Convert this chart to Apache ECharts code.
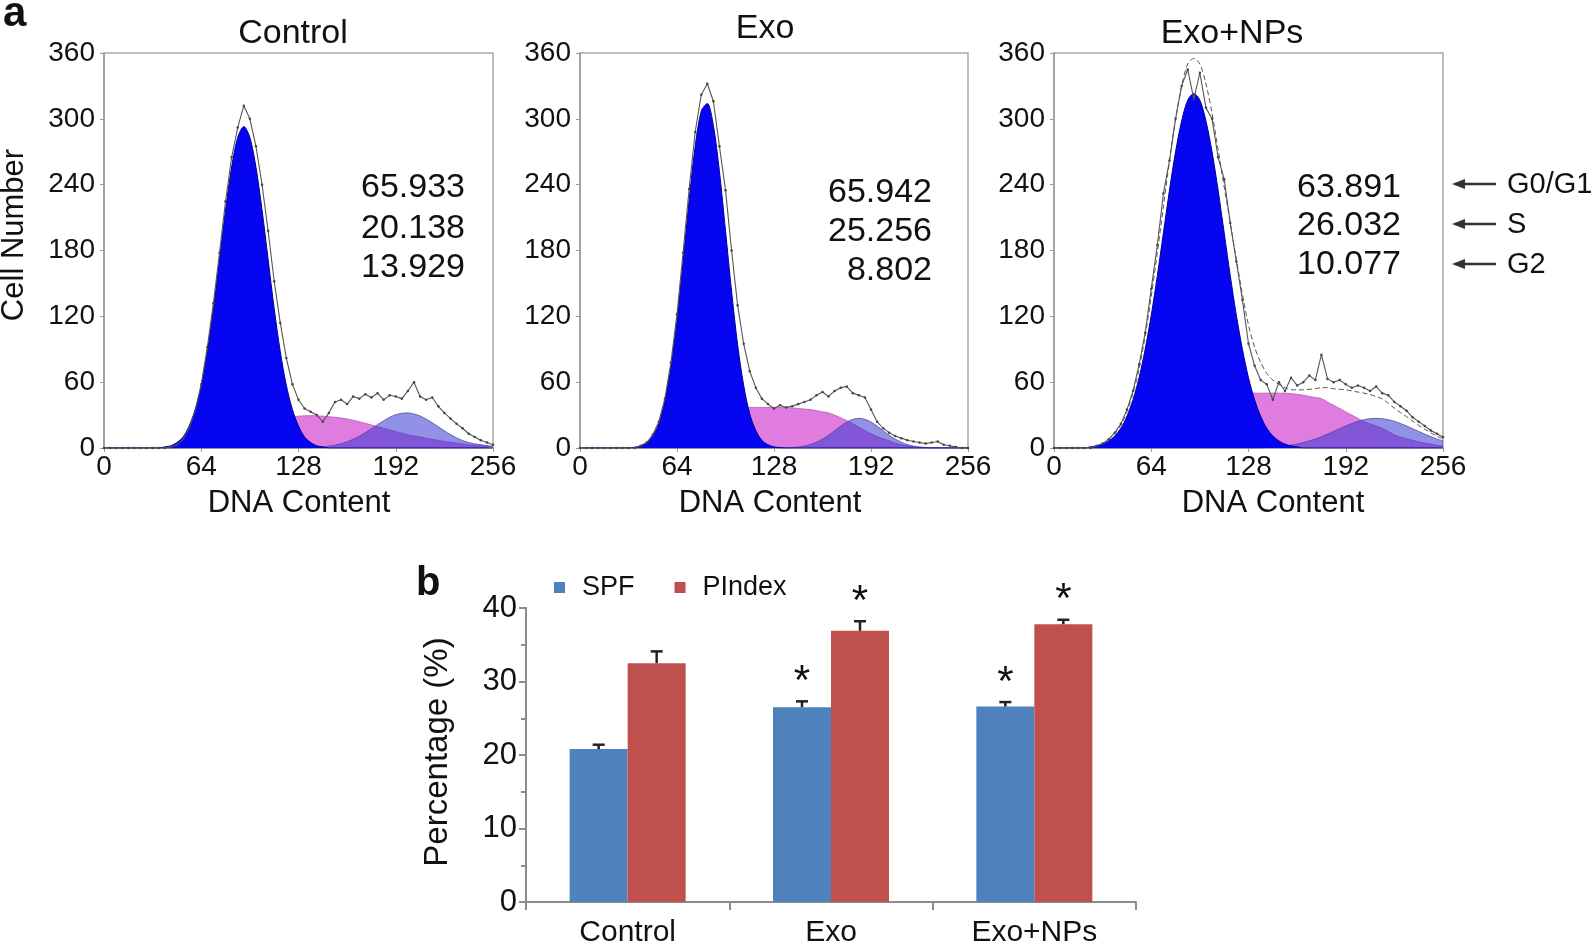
<!DOCTYPE html>
<html>
<head>
<meta charset="utf-8">
<title>Cell cycle distribution</title>
<script src="https://cdn.jsdelivr.net/npm/echarts@6/dist/echarts.min.js"></script>
<style>
html, body { margin: 0; padding: 0; background: #fff; }
#chart { width: 1594px; height: 946px; }
</style>
</head>
<body>
<div id="chart"></div>
<script>
// DNA content channels (x of the histograms)
const channels = [
  0, 4, 8, 12, 16, 20, 24, 28,
  32, 36, 40, 44, 48, 52, 56, 60,
  64, 68, 72, 76, 80, 84, 88, 92,
  96, 100, 104, 108, 112, 116, 120, 124,
  128, 132, 136, 140, 144, 148, 152, 156,
  160, 164, 168, 172, 176, 180, 184, 188,
  192, 196, 200, 204, 208, 212, 216, 220,
  224, 228, 232, 236, 240, 244, 248, 252,
  256
]
const histXTicks = [0, 64, 128, 192, 256]
const histYTicks = [0, 60, 120, 180, 240, 300, 360]

// Control
const controlG1 = [
  0, 0, 0, 0, 0, 0, 0, 0,
  0, 0, 1, 2, 5, 10, 20, 35,
  57, 88, 127, 172, 217, 256, 283, 293,
  283, 256, 217, 172, 127, 88, 57, 35,
  20, 10, 5, 2, 1, 0, 0, 0,
  0, 0, 0, 0, 0, 0, 0, 0,
  0, 0, 0, 0, 0, 0, 0, 0,
  0, 0, 0, 0, 0, 0, 0, 0,
  0
]
const controlS = [
  0, 0, 0, 0, 0, 0, 0, 0,
  0, 0, 0, 0, 0, 1.5, 3, 4.5,
  6, 7.5, 9, 11, 13, 15, 17, 18.5,
  20, 21.5, 23, 24.5, 26, 27, 28, 28.5,
  29, 29.3, 29.5, 29.3, 29, 28.5, 28, 27.3,
  26.5, 25.3, 24, 22.5, 21, 19.5, 18, 16.5,
  15, 13.5, 12, 11, 10, 9, 8, 7,
  6, 5.3, 4.5, 3.8, 3, 2.5, 2, 1.5,
  1
]
const controlG2 = [
  0, 0, 0, 0, 0, 0, 0, 0,
  0, 0, 0, 0, 0, 0, 0, 0,
  0, 0, 0, 0, 0, 0, 0, 0,
  0, 0, 0, 0, 0, 0, 0, 0,
  0, 0.2, 0.4, 0.7, 1, 1.7, 2.6, 4,
  5.7, 8, 10.8, 14, 17.6, 21.3, 24.8, 28,
  30.3, 31.6, 32, 31, 29.2, 26.4, 23, 19.4,
  15.7, 12.3, 9.3, 6.8, 5, 3.8, 3, 2.2,
  1.5
]
const controlRaw = [
  0, 0, 0, 0, 0, 0, 0, 0,
  0, 0, 0, 1, 3, 8, 18, 34,
  58, 92, 132, 178, 225, 265, 292, 312,
  300, 275, 240, 198, 152, 114, 82, 58,
  44, 36, 33, 30, 24, 32, 42, 44,
  40, 47, 45, 49, 46, 50, 44, 48,
  47, 45, 52, 60, 47, 44, 46, 38,
  32, 27, 22, 18, 13, 10, 7, 5,
  3
]

// Exo
const exoG1 = [
  0, 0, 0, 0, 0, 0, 0, 0,
  0, 0.7, 2, 5, 11, 22, 43, 74,
  117, 170, 226, 275, 307, 314, 294, 252,
  198, 143, 94, 57, 31, 16, 7, 3,
  1, 0.4, 0, 0, 0, 0, 0, 0,
  0, 0, 0, 0, 0, 0, 0, 0,
  0, 0, 0, 0, 0, 0, 0, 0,
  0, 0, 0, 0, 0, 0, 0, 0,
  0
]
const exoS = [
  0, 0, 0, 0, 0, 0, 0, 0,
  0, 0, 0, 0, 1, 3, 5, 8,
  11, 14, 17, 20, 23, 26, 28.5, 31,
  33, 35, 36, 36.5, 37, 37, 37, 37,
  37, 37, 37, 36.5, 36, 35.5, 35, 34,
  33, 32, 30, 27.5, 25, 22, 19, 16,
  13, 10.5, 8.5, 6.5, 4.5, 3, 2, 1,
  0.5, 0, 0, 0, 0, 0, 0, 0,
  0
]
const exoG2 = [
  0, 0, 0, 0, 0, 0, 0, 0,
  0, 0, 0, 0, 0, 0, 0, 0,
  0, 0, 0, 0, 0, 0, 0, 0,
  0, 0, 0, 0, 0, 0, 0, 0,
  0, 0, 0, 0.5, 1, 1.8, 3.2, 5.3,
  8.1, 11.7, 15.8, 20, 23.6, 26.1, 27, 26.1,
  23.6, 20, 15.8, 11.7, 8.1, 5.3, 3.2, 1.8,
  1, 0.5, 0, 0, 0, 0, 0, 0,
  0
]
const exoRaw = [
  0, 0, 0, 0, 0, 0, 0, 0,
  0, 0, 2, 5, 12, 24, 45, 78,
  122, 178, 236, 288, 322, 332, 316, 275,
  235, 180, 130, 95, 70, 55, 45, 40,
  36, 39, 37, 38, 40, 42, 44, 48,
  51, 47, 52, 55, 56, 50, 48, 46,
  35, 24, 18, 14, 11, 9, 7, 6,
  5, 4, 5, 6, 3, 2, 1, 0,
  0
]

// Exo+NPs
const npsG1 = [
  0, 0, 0, 0, 0, 0, 1, 1.9,
  3.6, 6.4, 11, 18, 29, 44, 64, 90,
  121, 157, 196, 235, 270, 298, 317, 323,
  317, 298, 270, 235, 196, 157, 121, 90,
  64, 44, 29, 18, 11, 6.4, 3.6, 1.9,
  1, 0, 0, 0, 0, 0, 0, 0,
  0, 0, 0, 0, 0, 0, 0, 0,
  0, 0, 0, 0, 0, 0, 0, 0,
  0
]
const npsS = [
  0, 0, 0, 0, 0, 0, 0, 0,
  0, 0, 0, 1, 2, 4, 6, 8,
  11, 14, 17, 20, 23, 26, 29, 32,
  35, 38, 41, 43, 45, 47, 48.5, 49.5,
  50, 50, 50, 50, 50, 50, 50, 49.5,
  49, 48, 47, 46, 45, 42, 39, 36,
  33, 30, 27, 24, 22, 20, 18, 15,
  12, 10, 8.5, 7, 5.5, 4.5, 3.5, 2.5,
  2
]
const npsG2 = [
  0, 0, 0, 0, 0, 0, 0, 0,
  0, 0, 0, 0, 0, 0, 0, 0,
  0, 0, 0, 0, 0, 0, 0, 0,
  0, 0, 0, 0, 0, 0, 0, 0,
  0, 0, 0, 0.6, 0.9, 1.3, 1.9, 2.7,
  3.7, 4.9, 6.5, 8.3, 10.3, 12.7, 15.1, 17.6,
  20.1, 22.3, 24.3, 25.8, 26.7, 27, 26.7, 25.8,
  24.3, 22.3, 20.1, 17.6, 15.1, 12.7, 10.3, 8.3,
  6.5
]
// dashed overall fit, Exo+NPs
const npsFit = [
  0, 0, 0, 0, 0, 0, 1, 2,
  4, 8, 13, 21, 33, 50, 72, 102,
  138, 178, 220, 262, 300, 330, 350, 355,
  350, 332, 305, 272, 238, 205, 172, 140,
  112, 92, 78, 68, 62, 58, 55, 53,
  53, 53, 53.5, 54, 55, 55, 54, 53.5,
  53, 52, 51, 50, 48.7, 47, 44.7, 40.8,
  36.3, 32.3, 28.6, 24.6, 20.6, 17.2, 13.8, 10.8,
  8.5
]
const npsRaw = [
  0, 0, 0, 0, 0, 0, 0, 2,
  4, 8, 14, 22, 35, 52, 76, 105,
  145, 185, 232, 262, 300, 330, 345, 318,
  342, 310, 300, 265, 245, 205, 170, 135,
  95, 75, 62, 58, 44, 60, 52, 64,
  57, 60, 66, 62, 85, 63, 60, 62,
  58, 55, 57, 55, 52, 56, 50, 48,
  42, 38, 34, 28, 24, 20, 16, 13,
  10
]

const panelTitles = ['Control', 'Exo', 'Exo+NPs']
const phaseNumbers = [
  ['65.933', '20.138', '13.929'],
  ['65.942', '25.256', '8.802'],
  ['63.891', '26.032', '10.077'],
]
const phaseNames = ['G0/G1', 'S', 'G2']

// panel b
const groups = ['Control', 'Exo', 'Exo+NPs']
const spf = [20.8, 26.5, 26.6]
const spfErr = [0.6, 0.8, 0.6]
const pindex = [32.5, 36.9, 37.8]
const pindexErr = [1.6, 1.3, 0.6]
const spfSig = [0, 1, 1]
const pindexSig = [0, 1, 1]
const barTicks = [0, 10, 20, 30, 40]

const FONT = "'Liberation Sans', Arial, sans-serif"
const chart = echarts.init(document.getElementById('chart'))

const panels = [
  { g1: controlG1, s: controlS, g2: controlG2, raw: controlRaw, fit: null, left: 104, width: 389 },
  { g1: exoG1, s: exoS, g2: exoG2, raw: exoRaw, fit: null, left: 580, width: 388 },
  { g1: npsG1, s: npsS, g2: npsG2, raw: npsRaw, fit: npsFit, left: 1054, width: 389 },
]
const pairs = vals => channels.map((c, i) => [c, vals[i]])

const grid = panels.map(p => ({
  left: p.left, top: 53, width: p.width, height: 395,
  show: true, borderColor: '#a8a8a8', borderWidth: 1.5,
  outerBoundsMode: 'none',
}))
grid.push({ left: 526, top: 608, width: 610, height: 294, outerBoundsMode: 'none' })

const xAxis = panels.map((p, i) => ({
  type: 'value', gridIndex: i,
  min: histXTicks[0], max: histXTicks[histXTicks.length - 1], interval: 64,
  axisLine: { show: true, lineStyle: { color: '#9a9a9a', width: 1.5 } },
  axisTick: { show: true, length: 4, lineStyle: { color: '#9a9a9a' } },
  splitLine: { show: false },
  axisLabel: { fontSize: 28, color: '#111', fontFamily: FONT, margin: 5 },
}))
xAxis.push({
  type: 'category', gridIndex: 3, data: groups,
  axisLine: { show: true, lineStyle: { color: '#8c8c8c', width: 2 } },
  axisTick: { show: true, alignWithLabel: false, length: 8, lineStyle: { color: '#8c8c8c', width: 2 } },
  axisLabel: { fontSize: 30, color: '#111', fontFamily: FONT, margin: 16 },
})

const yAxis = panels.map((p, i) => ({
  type: 'value', gridIndex: i,
  min: histYTicks[0], max: histYTicks[histYTicks.length - 1], interval: 60,
  axisLine: { show: true, lineStyle: { color: '#9a9a9a', width: 1.5 } },
  axisTick: { show: true, length: 4, lineStyle: { color: '#9a9a9a' } },
  splitLine: { show: false },
  axisLabel: { fontSize: 28, color: '#111', fontFamily: FONT, margin: 9 },
}))
yAxis.push({
  type: 'value', gridIndex: 3,
  min: barTicks[0], max: barTicks[barTicks.length - 1], interval: 10,
  axisLine: { show: true, lineStyle: { color: '#8c8c8c', width: 2 } },
  axisTick: { show: true, length: 7, lineStyle: { color: '#8c8c8c', width: 2 } },
  minorTick: { show: true, splitNumber: 2, length: 5, lineStyle: { color: '#8c8c8c', width: 2 } },
  splitLine: { show: false },
  axisLabel: { fontSize: 31, color: '#111', fontFamily: FONT, margin: 9 },
})

const series = []
panels.forEach((p, i) => {
  const base = { type: 'line', xAxisIndex: i, yAxisIndex: i, symbol: 'none', silent: true }
  series.push(Object.assign({}, base, {
    name: 'S' + i, data: pairs(p.s), smooth: 0.3, z: 2,
    lineStyle: { color: '#b25ab2', width: 0.8 },
    areaStyle: { color: '#e07ce0', opacity: 1 },
  }))
  series.push(Object.assign({}, base, {
    name: 'G2' + i, data: pairs(p.g2), smooth: 0.3, z: 3,
    lineStyle: { color: '#4a4aa0', width: 0.8 },
    areaStyle: { color: 'rgb(55,55,210)', opacity: 0.55 },
  }))
  series.push(Object.assign({}, base, {
    name: 'G1' + i, data: pairs(p.g1), smooth: 0.3, z: 4,
    lineStyle: { color: '#00009a', width: 1 },
    areaStyle: { color: '#0505f2', opacity: 1 },
  }))
  if (p.fit) {
    series.push(Object.assign({}, base, {
      name: 'fit' + i, data: pairs(p.fit), smooth: 0.3, z: 5,
      lineStyle: { color: '#555', width: 1, type: [5, 3] },
    }))
  }
  series.push(Object.assign({}, base, {
    name: 'raw' + i, data: pairs(p.raw), z: 6,
    symbol: 'circle', symbolSize: 2.5, showSymbol: true,
    itemStyle: { color: '#444' },
    lineStyle: { color: '#555', width: 1.1 },
  }))
})

series.push({
  name: 'SPF', type: 'bar', xAxisIndex: 3, yAxisIndex: 3,
  data: spf, barWidth: 58, barGap: '0%', itemStyle: { color: '#4f81bd' },
})
series.push({
  name: 'PIndex', type: 'bar', xAxisIndex: 3, yAxisIndex: 3,
  data: pindex, barWidth: 58, barGap: '0%', itemStyle: { color: '#c0504d' },
})

// error bars (upper half only) and significance stars
function errorBars(name, vals, errs, sig, shift) {
  return {
    name: name, type: 'custom', xAxisIndex: 3, yAxisIndex: 3, z: 6,
    data: vals.map((v, i) => [i, v, errs[i], sig[i]]),
    renderItem: function (params, api) {
      const bottom = api.coord([api.value(0), api.value(1)])
      const top = api.coord([api.value(0), api.value(1) + api.value(2)])
      const x = bottom[0] + shift
      const children = [
        { type: 'line', shape: { x1: x, y1: bottom[1], x2: x, y2: top[1] }, style: { stroke: '#222', lineWidth: 2.5 } },
        { type: 'line', shape: { x1: x - 6, y1: top[1], x2: x + 6, y2: top[1] }, style: { stroke: '#222', lineWidth: 2.5 } },
      ]
      if (api.value(3)) {
        children.push({
          type: 'text', x: x, y: top[1] + 2,
          style: { text: '*', fontSize: 42, fontFamily: FONT, fill: '#111', align: 'center', verticalAlign: 'bottom' },
        })
      }
      return { type: 'group', children: children }
    },
  }
}
series.push(errorBars('SPF err', spf, spfErr, spfSig, -29))
series.push(errorBars('PIndex err', pindex, pindexErr, pindexSig, 29))

// texts
const txt = (x, y, text, size, extra) => ({
  type: 'text', x: x, y: y,
  style: Object.assign({ text: text, fontSize: size, fontFamily: FONT, fill: '#111', align: 'center', verticalAlign: 'middle' }, extra || {}),
})

const graphic = []
graphic.push(txt(3, 14, 'a', 42, { fontWeight: 'bold', align: 'left' }))
graphic.push(txt(416, 584, 'b', 40, { fontWeight: 'bold', align: 'left' }))
const titlePos = [[293, 34], [765, 29], [1232, 34]]
panelTitles.forEach((t, i) => graphic.push(txt(titlePos[i][0], titlePos[i][1], t, 34)))
const xNamePos = [299, 770, 1273]
xNamePos.forEach(x => graphic.push(txt(x, 503, 'DNA Content', 31)))
graphic.push(Object.assign(txt(14, 235, 'Cell Number', 31), { rotation: Math.PI / 2 }))
graphic.push(Object.assign(txt(438, 752, 'Percentage (%)', 33), { rotation: Math.PI / 2 }))

const numRight = [465, 932, 1401]
const numY = [[188, 229, 268], [193, 232, 271], [188, 226, 265]]
phaseNumbers.forEach((list, i) => {
  list.forEach((n, k) => graphic.push(txt(numRight[i], numY[i][k], n, 34, { align: 'right' })))
})
const arrowY = [184, 224, 264]
phaseNames.forEach((n, k) => {
  const y = arrowY[k]
  graphic.push({ type: 'line', shape: { x1: 1462, y1: y, x2: 1496, y2: y }, style: { stroke: '#333', lineWidth: 2.5 } })
  graphic.push({ type: 'polygon', shape: { points: [[1452, y], [1465, y - 5], [1465, y + 5]] }, style: { fill: '#333' } })
  graphic.push(txt(1507, y + 1, n, 29, { align: 'left' }))
})

chart.setOption({
  animation: false,
  grid: grid,
  xAxis: xAxis,
  yAxis: yAxis,
  legend: {
    data: ['SPF', 'PIndex'],
    left: 554, top: 574, padding: 0,
    icon: 'rect', itemWidth: 11, itemHeight: 11, itemGap: 40,
    textStyle: { fontSize: 27, fontFamily: FONT, color: '#111', padding: [0, 0, 0, 12] },
  },
  series: series,
  graphic: graphic,
})
</script>
</body>
</html>
